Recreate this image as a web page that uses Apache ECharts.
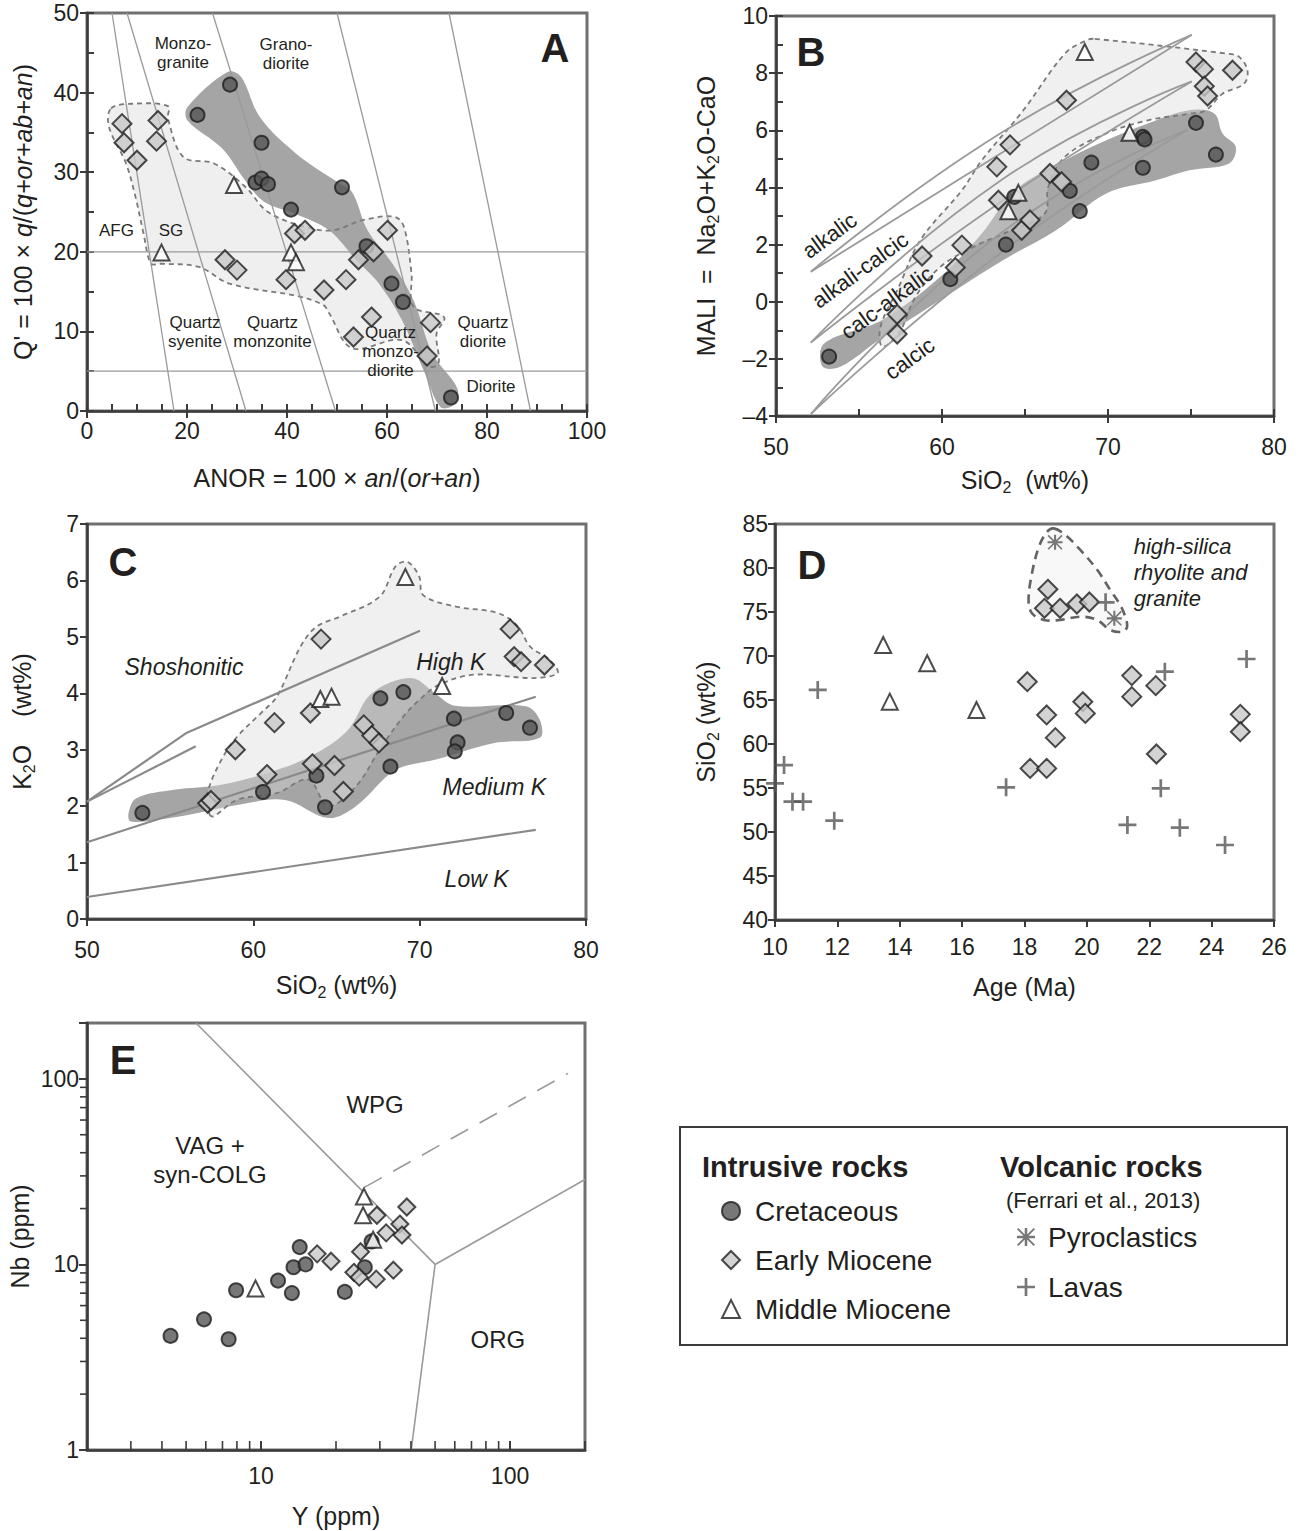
<!DOCTYPE html>
<html><head><meta charset="utf-8">
<script src="https://cdn.jsdelivr.net/npm/echarts@6/dist/echarts.min.js"></script>
<style>html,body{margin:0;padding:0;background:#fff}#c{width:1301px;height:1531px}</style>
</head><body><div id="c"></div>
<script>
const FONT = '"Liberation Sans", Arial, Helvetica, sans-serif';
const INK = '#231f20';
const NB = '\u00a0';

// ===== Panel A : Q' - ANOR =====
const aXTicks = [0, 20, 40, 60, 80, 100];
const aYTicks = [0, 10, 20, 30, 40, 50];
const aMinorStep = 5;
const aCretaceous = [[28.6,41.0],[22.1,37.2],[34.9,33.7],[33.7,28.7],[34.9,29.2],[36.2,28.5],[51.0,28.1],[40.8,25.3],[55.9,20.7],[60.9,16.0],[63.2,13.7],[72.8,1.7]];
const aEarlyMiocene = [[7.0,36.1],[7.4,33.7],[10.0,31.5],[14.2,36.5],[13.9,33.9],[27.6,19.0],[30.0,17.7],[39.8,16.5],[41.5,22.3],[43.6,22.7],[47.4,15.2],[51.8,16.5],[54.3,19.0],[57.3,20.0],[60.1,22.7],[53.3,9.3],[56.9,11.8],[68.7,11.1],[68.0,6.9]];
const aMiddleMiocene = [[29.4,28.4],[14.9,19.9],[40.8,19.9],[41.8,18.7]];
const aFieldCretaceous = [[20.1,38.2],[28.1,42.6],[30.8,42.0],[34.6,36.9],[41.9,32.3],[50.0,28.8],[53.0,27.5],[56.1,22.7],[61.1,18.5],[65.3,13.9],[69.1,7.2],[74.1,2.8],[73.3,0.75],[70.7,0.5],[67.6,4.7],[63.0,11.4],[58.4,16.0],[53.8,19.0],[48.4,22.7],[41.5,24.8],[35.4,26.3],[31.6,29.0],[27.0,33.0],[20.1,36.5]];
const aFieldEarly = [[4.8,38.0],[9.0,38.6],[16.2,38.3],[16.2,36.7],[19.3,31.9],[25.4,31.1],[31.6,28.2],[36.2,25.0],[43.8,23.1],[49.2,22.7],[55.3,24.0],[61.5,24.4],[63.4,23.1],[64.9,17.3],[65.3,13.1],[71.4,11.8],[69.9,9.7],[70.3,6.0],[68.4,5.6],[63.0,8.9],[53.0,7.9],[48.4,12.3],[47.3,13.3],[42.3,14.4],[28.5,16.0],[22.4,18.1],[14.7,18.5],[12.8,18.5],[11.3,22.3],[9.7,26.9],[7.8,31.1],[4.4,35.7]];
const aBoundaries = [[[5.0,50],[17.4,0]],[[8.0,50],[31.8,0]],[[25.1,50],[49.7,0]],[[50.0,50],[69.7,0]],[[72.4,50],[88.7,0]],[[0,20],[100,20]],[[0,5],[100,5]]];
const aRegionLabels = [[19.2,45.0,'Monzo-\ngranite'],[39.8,44.9,'Grano-\ndiorite'],[5.9,22.7,'AFG'],[16.8,22.7,'SG'],[21.6,9.9,'Quartz\nsyenite'],[37.1,9.9,'Quartz\nmonzonite'],[60.7,7.45,'Quartz\nmonzo-\ndiorite'],[79.2,9.9,'Quartz\ndiorite'],[80.8,3.05,'Diorite']];

// ===== Panel B : MALI - SiO2 =====
const bXTicks = [50, 60, 70, 80];
const bYTicks = [-4, -2, 0, 2, 4, 6, 8, 10];
const bXMinorStep = 5, bYMinorStep = 1;
const bCretaceous = [[53.2,-1.92],[60.5,0.79],[63.85,2.0],[64.35,3.67],[67.7,3.88],[68.3,3.17],[69.0,4.87],[72.1,5.77],[72.2,5.68],[72.1,4.69],[75.3,6.26],[76.5,5.15]];
const bEarlyMiocene = [[58.8,1.6],[60.8,1.2],[61.2,1.98],[57.3,-0.44],[57.3,-1.13],[63.3,4.72],[64.1,5.49],[63.4,3.55],[64.8,2.5],[65.3,2.86],[66.5,4.49],[67.2,4.2],[67.5,7.05],[75.3,8.39],[75.75,8.14],[75.8,7.54],[76.0,7.2],[77.5,8.1]];
const bMiddleMiocene = [[68.6,8.74],[71.3,5.91],[64.6,3.81],[64.0,3.17]];
const bFieldCretaceous = [[52.8,-2.27],[52.9,-1.46],[56.4,-0.64],[59.9,0.87],[62.4,2.39],[64.4,3.9],[67.4,4.95],[69.9,5.65],[72.4,6.24],[74.9,6.7],[76.4,6.59],[76.9,5.89],[77.7,5.42],[77.3,4.84],[74.9,4.6],[72.9,4.25],[69.9,3.79],[66.9,2.51],[63.7,1.46],[59.9,0.06],[56.2,-1.34],[53.9,-2.27]];
const bFieldEarly = [[69.2,9.2],[77.2,8.68],[77.9,8.57],[78.4,8.1],[78.2,7.63],[76.9,7.28],[75.9,6.7],[74.9,6.58],[72.4,6.35],[69.9,5.89],[67.4,5.07],[66.4,4.02],[66.2,3.09],[64.2,2.51],[61.9,1.92],[59.9,1.22],[58.4,0.17],[57.4,-1.11],[56.4,-1.57],[56.3,-0.87],[57.4,0.52],[58.7,2.16],[61.2,3.9],[62.4,4.95],[64.9,6.7],[67.4,8.68],[68.7,9.15]];
const bBoundaries = [
  [[52.1,1.05],[63.6,5.21],[75.05,9.34]], [[52.1,1.05],[63.6,5.92],[75.05,9.34]],
  [[52.1,-1.43],[63.6,3.52],[75.05,7.71]], [[52.1,-1.43],[63.6,4.27],[75.05,7.71]],
  [[52.1,-3.93],[63.6,1.73],[74.8,6.02]], [[52.1,-3.93],[63.6,2.42],[74.8,6.02]]
];
const bRegionLabels = [[53.22,2.32,'alkalic'],[55.07,1.11,'alkali-calcic'],[56.68,-0.03,'calc-alkalic'],[58.05,-1.99,'calcic']];

// ===== Panel C : K2O - SiO2 =====
const cXTicks = [50, 60, 70, 80];
const cYTicks = [0, 1, 2, 3, 4, 5, 6, 7];
const cCretaceous = [[53.33,1.88],[60.58,2.25],[63.79,2.54],[64.31,1.98],[67.64,3.91],[69.02,4.02],[68.24,2.70],[72.06,3.55],[72.28,3.13],[72.11,2.97],[75.2,3.65],[76.63,3.39]];
const cEarlyMiocene = [[57.25,2.05],[57.45,2.1],[58.92,3.0],[61.27,3.48],[60.82,2.56],[63.43,3.65],[64.07,4.96],[63.55,2.75],[64.88,2.72],[65.41,2.26],[66.64,3.44],[67.12,3.25],[67.55,3.12],[75.44,5.14],[75.68,4.65],[76.1,4.56],[77.5,4.5]];
const cMiddleMiocene = [[69.14,6.06],[71.35,4.13],[64.03,3.9],[64.7,3.94]];
const cFieldCretaceous = [[52.5,1.88],[52.97,2.14],[55.23,2.29],[58.08,2.38],[61.41,2.64],[63.79,2.94],[65.69,3.35],[67.12,4.0],[69.5,4.27],[70.92,4.0],[72.1,3.78],[76.39,3.77],[77.22,3.53],[77.22,3.21],[74.49,3.12],[70.92,2.82],[68.55,2.64],[66.17,2.0],[64.5,1.79],[61.89,2.11],[59.03,2.02],[56.66,1.88],[54.28,1.76],[52.62,1.73]];
const cFieldEarly = [[57.37,1.85],[57.25,2.23],[58.08,2.82],[59.03,3.23],[60.46,3.65],[61.41,3.94],[62.84,4.83],[63.79,5.18],[65.22,5.36],[67.59,5.71],[68.55,6.25],[69.26,6.33],[69.97,6.07],[70.21,5.74],[72.11,5.54],[74.73,5.42],[75.92,5.18],[76.63,4.83],[77.82,4.59],[78.29,4.36],[76.87,4.27],[73.3,4.33],[71.16,4.15],[69.97,3.88],[69.02,3.59],[67.59,3.0],[66.17,2.35],[64.5,2.0],[63.31,2.47],[61.41,2.23],[59.03,2.11],[57.61,1.82]];
const cBoundaries = [[[50,2.08],[55.94,3.29],[70.02,5.11]],[[50,2.08],[56.54,3.06]],[[50,1.36],[76.98,3.94]],[[50,0.39],[76.98,1.58]]];
const cRegionLabels = [[55.83,4.47,'Shoshonitic'],[71.87,4.56,'High K'],[74.49,2.34,'Medium K'],[73.42,0.71,'Low K']];

// ===== Panel D : SiO2 - Age =====
const dXTicks = [10, 12, 14, 16, 18, 20, 22, 24, 26];
const dYTicks = [40, 45, 50, 55, 60, 65, 70, 75, 80, 85];
const dMiddleMiocene = [[13.47,71.25],[13.68,64.81],[14.88,69.17],[16.46,63.86]];
const dEarlyMiocene = [[18.09,67.08],[18.18,57.23],[18.71,57.23],[18.71,63.3],[18.99,60.72],[19.87,64.81],[19.95,63.48],[21.44,67.77],[21.44,65.38],[22.21,66.63],[22.23,58.86],[24.92,63.37],[24.92,61.4],[18.75,77.58],[18.64,75.42],[19.14,75.42],[19.68,75.91],[20.08,76.14]];
const dPyroclastics = [[18.98,82.92],[20.88,74.28]];
const dLavas = [[10.0,55.53],[10.29,57.61],[10.56,53.45],[10.9,53.45],[11.37,66.14],[11.9,51.29],[17.41,55.08],[20.6,76.1],[21.3,50.8],[22.37,54.96],[22.5,68.22],[22.98,50.49],[24.43,48.52],[25.12,69.66]];
const dFieldHighSilica = [[18.94,84.5],[19.31,83.75],[19.79,82.05],[20.33,79.8],[20.75,77.5],[21.07,75.8],[21.23,74.47],[21.29,73.3],[21.13,72.76],[20.75,72.95],[20.33,74.1],[19.79,74.47],[19.15,74.1],[18.62,74.1],[18.24,74.85],[18.13,76.36],[18.24,79.4],[18.46,82.4],[18.72,84.1]];
const dRegionLabels = [[21.5,79.47,'high-silica\nrhyolite and\ngranite']];

// ===== Panel E : Nb - Y (log) =====
const eXRange = [2, 200], eYRange = [1, 200];
const eXTicks = [10, 100], eYTicks = [1, 10, 100];
const eXMinor = [3,4,5,6,7,8,9,20,30,40,50,60,70,80,90];
const eYMinor = [2,3,4,5,6,7,8,9,20,30,40,50,60,70,80,90];
const eCretaceous = [[4.33,4.12],[5.90,5.06],[7.41,3.95],[7.94,7.26],[11.7,8.18],[13.3,7.01],[13.5,9.66],[14.3,12.4],[15.1,10.0],[21.7,7.11],[26.1,9.66],[27.8,13.3]];
const eEarlyMiocene = [[16.8,11.4],[19.1,10.4],[23.6,9.07],[24.8,8.54],[25.1,11.7],[29.0,8.33],[29.2,18.4],[31.8,14.8],[34.0,9.31],[36.1,16.5],[36.8,14.4],[38.5,20.4]];
const eMiddleMiocene = [[9.5,7.42],[25.9,23.2],[25.7,18.4],[28.2,13.6]];
const eBoundaries = [[[5.48,200],[50,10]],[[50,10],[200,28.7]],[[50,10],[40.1,1]]];
const eDashedBoundary = [[26,26],[171,107]];
const eRegionLabels = [[6.24,36.4,'VAG +\nsyn-COLG'],[28.7,72.6,'WPG'],[89.3,3.95,'ORG']];

// ===== styles =====
const PLUS = 'path://M8.5,0h3v8.5h8.5v3h-8.5v8.5h-3v-8.5h-8.5v-3h8.5z';
const ASTER = 'path://M8.6,0h2.8v20h-2.8z M0,8.6h20v2.8h-20z M1.5,0L20,18.5L18.5,20L0,1.5z M18.5,0L20,1.5L1.5,20L0,18.5z';
const SYM = {
  cret: {symbol:'circle', size:14, style:{color:'#555555', borderColor:'#1e1e1e', borderWidth:2}},
  early: {symbol:'diamond', size:19, style:{color:'#c8c8c8', borderColor:'#1e1e1e', borderWidth:2}},
  earlyE: {symbol:'diamond', size:17, style:{color:'#c8c8c8', borderColor:'#1e1e1e', borderWidth:2}},
  middle: {symbol:'triangle', size:16, style:{color:'#ffffff', borderColor:'#1e1e1e', borderWidth:2}},
  pyro: {symbol:ASTER, size:15, style:{color:'#555555'}},
  lava: {symbol:PLUS, size:18, style:{color:'#555555'}}
};
const DARK = {fill:'#a5a5a5'};
const LIGHT_FILL_A = {fill:'#efefef'};
const LIGHT_LINE = {fill:'none', stroke:'#7a7a7a', lineWidth:1.8, lineDash:[5,4]};
const LIGHT_FILL_BC = {fill:'rgba(217,217,217,0.39)'};
const D_FIELD = {fill:'#f8f8f8', stroke:'#636363', lineWidth:2.6, lineDash:[9,6]};

function pts(name, xi, yi, data, sym) {
  return {type:'scatter', name, xAxisIndex:xi, yAxisIndex:yi, data, z:6, clip:false,
    symbol:sym.symbol, symbolSize:sym.size, symbolKeepAspect:true, itemStyle:sym.style, emphasis:{disabled:true}, animation:false};
}
function field(xi, yi, verts, style, z) {
  return {type:'custom', xAxisIndex:xi, yAxisIndex:yi, silent:true, z, clip:false, data:[verts[0]], animation:false,
    renderItem: (params, api) => ({type:'polygon', shape:{points: verts.map(v => api.coord(v)), smooth:0.35}, style})};
}
function refLine(xi, yi, data, color, width, extra) {
  return Object.assign({type:'line', xAxisIndex:xi, yAxisIndex:yi, data, symbol:'none', silent:true, z:3, animation:false,
    lineStyle:{color, width}}, extra || {});
}
function labels(xi, yi, arr, o) {
  return {type:'custom', xAxisIndex:xi, yAxisIndex:yi, silent:true, z:4, clip:false, animation:false,
    data: arr.map(d => [d[0], d[1]]),
    renderItem: (p, api) => {
      const c = api.coord([api.value(0), api.value(1)]);
      return {type:'text', x:c[0], y:c[1], rotation:(o.rotate || 0) * Math.PI / 180,
        style:{text:arr[p.dataIndex][2], fontFamily:FONT, fontSize:o.fontSize, fontStyle:o.fontStyle || 'normal',
          lineHeight:o.lineHeight || Math.round(o.fontSize * 1.15), fill:INK, align:o.align || 'center', verticalAlign:'middle'}};
    }};
}

const titleStyle = {fontFamily:FONT, fontSize:25, color:INK, lineHeight:30,
  rich:{ s:{fontFamily:FONT, fontSize:16, color:INK, verticalAlign:'bottom', lineHeight:17},
         i:{fontFamily:FONT, fontSize:25, color:INK, fontStyle:'italic', lineHeight:30} }};
const tickLine = {color:'#3b3b3b', width:2};
function mainAxis(gi, ticks, o) {
  return Object.assign({
    gridIndex:gi, type:'value', min:ticks[0], max:ticks[ticks.length-1], interval:ticks[1]-ticks[0],
    axisLine:{show:true, onZero:false, lineStyle:{color:'#3b3b3b', width:2.5}},
    axisTick:{show:true, inside:false, length:7, lineStyle:tickLine},
    axisLabel:{show:true, fontFamily:FONT, fontSize:23, color:INK, margin:8, formatter: v => String(v).replace('-', '\u2013')},
    splitLine:{show:false}, nameLocation:'middle', nameTextStyle:titleStyle
  }, o);
}
function minorAxis(gi, ticks, step, pos) {
  return {gridIndex:gi, type:'value', min:ticks[0], max:ticks[ticks.length-1], interval:step, position:pos,
    axisLine:{show:false, onZero:false}, axisTick:{show:true, inside:true, length:7, lineStyle:tickLine},
    axisLabel:{show:false}, splitLine:{show:false}};
}
const isTick = (list) => (v => list.some(t => Math.abs(v / t - 1) < 1e-6) ? String(Math.round(v)) : '');

const grids = [
  {left:87, top:13, width:500, height:398},
  {left:776, top:16, width:498, height:400},
  {left:87, top:524, width:499, height:395},
  {left:775, top:524, width:499, height:396},
  {left:87, top:1023, width:498, height:427}
].map(g => Object.assign({show:true, borderColor:'#707070', borderWidth:3, backgroundColor:'rgba(0,0,0,0)', outerBoundsMode:'none'}, g));

const xAxis = [
  mainAxis(0, aXTicks, {name:'ANOR = 100 \u00d7 {i|an}/({i|or+an})', nameGap:52}),
  minorAxis(0, aXTicks, aMinorStep, 'bottom'),
  mainAxis(1, bXTicks, {name:'SiO{s|2}'+NB+NB+'(wt%)', nameGap:49, axisLabel:{fontFamily:FONT, fontSize:23, color:INK, margin:19}}),
  minorAxis(1, bXTicks, bXMinorStep, 'bottom'),
  mainAxis(2, cXTicks, {name:'SiO{s|2} (wt%)', nameGap:51, axisLabel:{fontFamily:FONT, fontSize:23, color:INK, margin:19}}),
  mainAxis(3, dXTicks, {name:'Age (Ma)', nameGap:52, axisLabel:{fontFamily:FONT, fontSize:23, color:INK, margin:15}}),
  {gridIndex:4, type:'log', logBase:10, min:eXRange[0], max:eXRange[1],
    axisLine:{show:true, onZero:false, lineStyle:{color:'#3b3b3b', width:2.5}},
    axisTick:{show:true, inside:true, length:9, lineStyle:tickLine},
    axisLabel:{fontFamily:FONT, fontSize:23, color:INK, margin:14, formatter:isTick(eXTicks)},
    splitLine:{show:false}, name:'Y (ppm)', nameLocation:'middle', nameGap:51, nameTextStyle:titleStyle}
];
const yAxis = [
  mainAxis(0, aYTicks, {name:"Q' = 100 \u00d7 {i|q}/({i|q+or+ab+an})", nameGap:49}),
  minorAxis(0, aYTicks, aMinorStep, 'left'),
  mainAxis(1, bYTicks, {name:'MALI'+NB+NB+'='+NB+NB+'Na{s|2}O+K{s|2}O-CaO', nameGap:55}),
  minorAxis(1, bYTicks, bYMinorStep, 'left'),
  mainAxis(2, cYTicks, {name:'K{s|2}O'+NB+NB+NB+NB+'(wt%)', nameGap:50}),
  mainAxis(3, dYTicks, {name:'SiO{s|2} (wt%)', nameGap:54, axisLabel:{fontFamily:FONT, fontSize:23, color:INK, margin:7}}),
  {gridIndex:4, type:'log', logBase:10, min:eYRange[0], max:eYRange[1],
    axisLine:{show:true, onZero:false, lineStyle:{color:'#3b3b3b', width:2.5}},
    axisTick:{show:true, inside:false, length:8, lineStyle:tickLine},
    axisLabel:{fontFamily:FONT, fontSize:23, color:INK, margin:8, formatter:isTick(eYTicks)},
    splitLine:{show:false}, name:'Nb (ppm)', nameLocation:'middle', nameGap:52, nameTextStyle:titleStyle}
];

const series = [];
// A
series.push(field(0,0,aFieldEarly,LIGHT_FILL_A,1));
series.push(field(0,0,aFieldCretaceous,DARK,2));
series.push(field(0,0,aFieldEarly,LIGHT_LINE,2));
aBoundaries.forEach(b => series.push(refLine(0,0,b,'#9a9a9a',1.3)));
series.push(labels(0,0,aRegionLabels,{fontSize:17, lineHeight:19}));
series.push(pts('Cretaceous',0,0,aCretaceous,SYM.cret));
series.push(pts('Early Miocene',0,0,aEarlyMiocene,SYM.early));
series.push(pts('Middle Miocene',0,0,aMiddleMiocene,SYM.middle));
// B
series.push(field(2,2,bFieldCretaceous,DARK,1));
series.push(field(2,2,bFieldEarly,LIGHT_FILL_BC,2));
series.push(field(2,2,bFieldEarly,LIGHT_LINE,2));
bBoundaries.forEach(b => series.push(refLine(2,2,b,'#9a9a9a',1.8,{smooth:0.5})));
series.push(labels(2,2,bRegionLabels,{fontSize:22, rotate:36}));
series.push(pts('Cretaceous',2,2,bCretaceous,SYM.cret));
series.push(pts('Early Miocene',2,2,bEarlyMiocene,SYM.early));
series.push(pts('Middle Miocene',2,2,bMiddleMiocene,SYM.middle));
// C
series.push(field(4,4,cFieldCretaceous,DARK,1));
series.push(field(4,4,cFieldEarly,LIGHT_FILL_BC,2));
series.push(field(4,4,cFieldEarly,LIGHT_LINE,2));
cBoundaries.forEach(b => series.push(refLine(4,4,b,'#8a8a8a',2.2)));
series.push(labels(4,4,cRegionLabels,{fontSize:23, fontStyle:'italic'}));
series.push(pts('Cretaceous',4,4,cCretaceous,SYM.cret));
series.push(pts('Early Miocene',4,4,cEarlyMiocene,SYM.early));
series.push(pts('Middle Miocene',4,4,cMiddleMiocene,SYM.middle));
// D
series.push(field(5,5,dFieldHighSilica,D_FIELD,1));
series.push(labels(5,5,dRegionLabels,{fontSize:22, fontStyle:'italic', align:'left', lineHeight:26}));
series.push(pts('Middle Miocene',5,5,dMiddleMiocene,SYM.middle));
series.push(pts('Early Miocene',5,5,dEarlyMiocene,SYM.early));
series.push(pts('Lavas',5,5,dLavas,SYM.lava));
series.push(pts('Pyroclastics',5,5,dPyroclastics,SYM.pyro));
// E
eBoundaries.forEach(b => series.push(refLine(6,6,b,'#9a9a9a',1.6)));
series.push(refLine(6,6,eDashedBoundary,'#9a9a9a',1.6,{lineStyle:{color:'#9a9a9a', width:1.6, type:[20,13]}}));
series.push(labels(6,6,eRegionLabels,{fontSize:24, lineHeight:29}));
series.push({type:'custom', xAxisIndex:6, yAxisIndex:6, silent:true, z:7, clip:false, animation:false,
  data: eXMinor.map(v => [v, eYRange[0]]),
  renderItem: (p, api) => { const c = api.coord([api.value(0), api.value(1)]);
    return {type:'line', shape:{x1:c[0], y1:c[1], x2:c[0], y2:c[1]-9}, style:{stroke:'#3b3b3b', lineWidth:1.6}}; }});
series.push({type:'custom', xAxisIndex:6, yAxisIndex:6, silent:true, z:7, clip:false, animation:false,
  data: eYMinor.map(v => [eXRange[0], v]),
  renderItem: (p, api) => { const c = api.coord([api.value(0), api.value(1)]);
    return {type:'line', shape:{x1:c[0], y1:c[1], x2:c[0]-7, y2:c[1]}, style:{stroke:'#3b3b3b', lineWidth:1.6}}; }});
series.push(pts('Cretaceous',6,6,eCretaceous,SYM.cret));
series.push(pts('Early Miocene',6,6,eEarlyMiocene,SYM.earlyE));
series.push(pts('Middle Miocene',6,6,eMiddleMiocene,SYM.middle));

const legendText = {fontFamily:FONT, fontSize:28, color:INK};
const letter = (t, x, y) => ({type:'text', x, y, silent:true, z:10,
  style:{text:t, fontFamily:FONT, fontSize:40, fontWeight:'bold', fill:INK, align:'center', verticalAlign:'middle'}});

const chart = echarts.init(document.getElementById('c'), null, {renderer:'svg', width:1301, height:1531});
chart.setOption({
  backgroundColor:'#ffffff',
  animation:false,
  textStyle:{fontFamily:FONT, color:INK},
  grid: grids,
  xAxis, yAxis, series,
  legend:[
    {data:['Cretaceous','Early Miocene','Middle Miocene'], orient:'vertical', left:721, top:1197, padding:0,
     itemWidth:18, itemHeight:18, itemGap:21, symbolKeepAspect:true,
     textStyle:Object.assign({padding:[0,0,0,10]}, legendText), selectedMode:false},
    {data:['Pyroclastics','Lavas'], orient:'vertical', left:1017, top:1223, padding:0,
     itemWidth:18, itemHeight:18, itemGap:22, symbolKeepAspect:true,
     textStyle:Object.assign({padding:[0,0,0,8]}, legendText), selectedMode:false}
  ],
  graphic:[
    {type:'rect', x:680, y:1127, silent:true, z:0, shape:{width:607, height:218}, style:{fill:'none', stroke:'#3a3a3a', lineWidth:2}},
    {type:'text', x:702, y:1167, silent:true, style:{text:'Intrusive rocks', fontFamily:FONT, fontSize:29, fontWeight:'bold', fill:INK, verticalAlign:'middle'}},
    {type:'text', x:1000, y:1167, silent:true, style:{text:'Volcanic rocks', fontFamily:FONT, fontSize:29, fontWeight:'bold', fill:INK, verticalAlign:'middle'}},
    {type:'text', x:1006, y:1200, silent:true, style:{text:'(Ferrari et al., 2013)', fontFamily:FONT, fontSize:22, fill:INK, verticalAlign:'middle'}},
    letter('A', 555, 48), letter('B', 811, 52), letter('C', 123, 562), letter('D', 812, 565), letter('E', 123, 1060)
  ]
});
</script></body></html>
